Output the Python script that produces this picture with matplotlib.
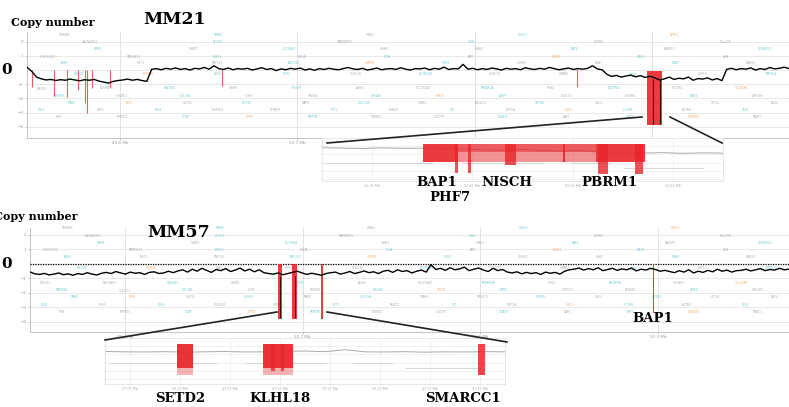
import numpy as np
import matplotlib.pyplot as plt
from matplotlib.lines import Line2D

W, H = 789, 407

############## data ##############
# copy number trace, MM21 (top), read along the panel left -> right
mm21_cn = [
    0.20, -0.10, -0.50, -0.62, -0.70, -0.66, -0.74, -0.68, -0.72, -0.64,
    -0.70, -0.76, -0.68, -0.72, -0.66, -0.78, -0.85, -0.92, -0.80, -0.74,
    -0.70, -0.64, -0.72, -0.66, -0.74, -0.80,
    0.05, 0.10, 0.02, 0.12, 0.06, 0.15, 0.04, 0.10, 0.00, 0.12,
    0.08, 0.18, 0.06, 0.30, 0.10, 0.04, 0.14, 0.02, 0.10, 0.06,
    0.12, 0.00, 0.08, 0.16, 0.04, 0.10, -0.04, 0.08, 0.02, 0.12,
    0.06, 0.14, 0.00, 0.08, -0.02, 0.10, 0.04, 0.12, 0.06, 0.02,
    0.10, 0.18, 0.08, 0.04, 0.12, 0.00, 0.06, 0.14, 0.02, 0.08,
    0.10, 0.04, 0.16, 0.06, 0.00, 0.10, 0.08, 0.14, 0.02, 0.12,
    0.06, 0.20, 0.04, 0.10, 0.08, 0.40, 0.06, 0.12, 0.02, 0.10,
    0.04, 0.14, 0.08, 0.00, 0.12, 0.06, 0.10, 0.02, 0.16, 0.08,
    0.04, 0.12, 0.06, 0.18, 0.10, 0.02, 0.08, 0.14, 0.04, 0.10,
    0.06, 0.12, 0.30, 0.08, 0.02,
    -0.30, -0.45, -0.38, -0.50, -0.42, -0.36, -0.48, -0.40, -0.52, -0.44,
    -0.55, -0.70, -0.62, -0.50, -0.66, -0.58, -0.62, -0.50, -0.72, -0.60,
    -0.64, -0.55, -0.70, -0.60, -0.75,
    0.05, 0.12, 0.02, 0.10, 0.06, 0.15, 0.00, 0.10, 0.04, 0.18, 0.08, 0.12, 0.20, 0.10,
]

# copy number trace, MM57 (bottom)
mm57_cn = [
    -0.55, -0.68, -0.72, -0.65, -0.75, -0.70, -0.62, -0.74, -0.68, -0.78,
    -0.66, -0.72, -0.60, -0.70, -0.76, -0.64,
    -0.58, -0.66, -0.52, -0.62, -0.70, -0.56, -0.64, -0.60, -0.72, -0.58,
    -0.54, -0.66, -0.62, -0.50, -0.60,
    -0.48, -0.40, -0.56, -0.36, -0.50, -0.30, -0.44, -0.58, -0.38, -0.46,
    -0.32, -0.52, -0.42, -0.28, -0.48, -0.36, -0.54, -0.40, -0.60, -0.66,
    -0.70, -0.62, -0.74, -0.66, -0.58, -0.50, -0.62, -0.72, -0.64, -0.70,
    -0.78, -0.66, -0.60,
    -0.56, -0.70, -0.62, -0.52, -0.66, -0.58, -0.48, -0.60, -0.54, -0.66,
    -0.50, -0.44, -0.58, -0.40, -0.52, -0.46, -0.62, -0.50, -0.42, -0.56, -0.05,
    -0.38, -0.30, -0.44, -0.26, -0.40, -0.34, -0.22, -0.46, -0.36, -0.28,
    -0.42, -0.52, -0.30, -0.46, -0.38, -0.56,
    -0.62, -0.54, -0.68, -0.58, -0.66, -0.60, -0.72, -0.56, -0.64, -0.58,
    -0.70, -0.50, -0.40,
    -0.36, -0.28, -0.42, -0.32, -0.40, -0.26, -0.46, -0.38, -0.30, -0.44,
    -0.34, -0.40, -0.28, -0.48, -0.36, -0.42, -0.30, -0.38, -0.50, -0.44,
    -0.52, -0.60, -0.46, -0.56, -0.40, -0.62, -0.50, -0.58, -0.44, -0.54,
    -0.36, -0.50, -0.42, -0.56, -0.46,
    -0.44, -0.36, -0.48, -0.40, -0.32, -0.46, -0.38, -0.42, -0.30, -0.40, -0.36,
]

mm21_range = (49.328, 53.195)   # Mb shown in top panel
mm57_range = (49.318, 53.165)   # Mb shown in bottom panel
mb_ticks = [49.8, 50.7, 51.6, 52.5]
mb_tick_labels = ['49.8 Mb', '50.7 Mb', '51.6 Mb', '52.5 Mb']
cn_ticks = [2, 1, -1, -2, -3, -4]

# deletion calls in main panels: position (Mb), width (Mb), top, bottom
mm21_del_pos = [49.353, 49.465, 49.531, 49.587, 49.622, 49.632, 49.658, 49.749, 50.318, 52.12]
mm21_del_bottom = [-1.2, -1.8, -1.9, -1.4, -2.3, -3.0, -1.3, -1.2, -1.1, -1.2]
mm21_block = (52.475, 52.551, -0.1, -3.9)

mm57_bar_pos = [50.585, 50.658, 50.797, 52.478]
mm57_bar_width = [0.020, 0.026, 0.008, 0.008]
mm57_bar_bottom = [-3.8, -3.8, -3.8, -3.4]

# zoomed insets
top_inset_range = (52.30, 52.70)
top_inset_cn = [-0.20, -0.25, -0.30, -0.22, -0.28, -0.25, -0.40, -0.35, -0.45, -0.50, -0.40,
                -0.55, -0.60, -0.55, -0.80, -0.90, -0.85, -0.80, -0.88, -0.82, -0.86]
# (start, end, bottom, alpha)
top_inset_blocks = [(52.401, 52.436, -1.9, 0.9), (52.436, 52.573, -1.9, 0.5),
                    (52.436, 52.573, -0.7, 0.5), (52.483, 52.494, -2.3, 0.8),
                    (52.573, 52.622, -1.9, 0.9), (52.575, 52.585, -3.4, 0.8),
                    (52.612, 52.620, -3.4, 0.8), (52.433, 52.436, -3.3, 0.8),
                    (52.446, 52.449, -3.3, 0.8), (52.540, 52.542, -1.9, 0.9)]

bot_inset_range = (47.05, 47.45)
bot_inset_cn = [-0.65, -0.70, -0.72, -0.68, -0.74, -0.70, -0.66, -0.72, -0.70, -0.64, -0.60,
                -0.68, -0.45, -0.70, -0.72, -0.68, -0.74, -0.70, -0.72, -0.68, -0.70]
bot_inset_blocks = [(47.122, 47.138, -2.6, 0.9), (47.122, 47.138, -3.5, 0.35),
                    (47.208, 47.238, -2.6, 0.9), (47.208, 47.238, -3.5, 0.35),
                    (47.216, 47.220, -3.0, 0.8), (47.226, 47.229, -3.0, 0.8),
                    (47.423, 47.430, -3.5, 0.85)]

top_labels = ['BAP1', 'PHF7', 'NISCH', 'PBRM1']
top_label_xy = [(437, 182), (450, 197), (507, 182), (609, 182)]
bot_labels = ['SETD2', 'KLHL18', 'SMARCC1', 'BAP1']
bot_label_xy = [(180, 399), (280, 399), (463, 399), (653, 318)]

gene_names = [
    'SEMA3F', 'RBM6', 'HYAL2', 'TUSC2', 'NPRL2',
    'CACNA2D2', 'DOCK3', 'MAPKAPK3', 'CISH', 'HEMK1', 'C3orf18',
    'RBM5', 'GNAT1', 'SLC38A3', 'GNAI2', 'HYAL1', 'NAT6', 'RASSF1', 'ZMYND10',
    'CYB561D2', 'TMEM115', 'LRRC2', 'RHOA', 'TCTA', 'AMT', 'NICN1', 'DAG1', 'BSN',
    'APEH', 'MST1', 'RNF123', 'AMIGO3', 'GMPPB', 'IP6K1', 'CDHR4', 'UBA7', 'TRAIP', 'CAMKV',
    'MST1R', 'MON1A', 'USP4', 'GPX1', 'CCDC36', 'KLHDC8B', 'CCDC71', 'LAMB2', 'QARS', 'USP19', 'IMPDH2',
    'QRICH1', 'NDUFAF3', 'DALRD3', 'WDR6', 'P4HTM', 'ARIH2', 'SLC25A20', 'PRKAR2A', 'IP6K2', 'NCKIPSD',
    'CELSR3', 'SLC26A6', 'TMEM89', 'UQCRC1', 'COL7A1', 'UCN2', 'PFKFB4', 'SHISA5', 'TREX1', 'ATRIP',
    'CCDC51', 'PLXNB1', 'NME6', 'ZNF589', 'TMA7', 'ELP6', 'CSPG5', 'DHX30', 'MAP4', 'CDC25A',
    'STAB1', 'NT5DC2', 'SMIM4', 'GNL3', 'GLT8D1', 'SPCS1', 'NEK4', 'ITIH1', 'ITIH3', 'ITIH4', 'MUSTN1',
    'SFMBT1', 'RFT1', 'PRKCD', 'TKT', 'DCP1A', 'CHDH', 'IL17RB', 'ACTR8', 'SELK', 'KIF9', 'PTPN23', 'SCAP',
    'TWF2', 'PPM1M', 'WDR82', 'GLYCTK', 'DNAH1', 'BAP1', 'PHF7', 'SEMA3G', 'TNNC1', 'NISCH', 'PBRM1',
]
gene_rows = [2.45, 1.95, 1.45, 0.95, 0.5, -0.3, -1.3, -1.8, -2.3, -2.8, -3.3]
genes_per_row = [5, 6, 8, 9, 10, 11, 12, 12, 13, 13, 12]

GRAY_TXT = '#8c8c8c'
CYAN = '#38b6c4'
ORANGE = '#f0913c'
RED = '#e8262a'
SERIF = 'DejaVu Serif'


def rect(l, t, r, b):
    return [l / W, 1 - b / H, (r - l) / W, (b - t) / H]


def style_axes(ax, ylim):
    ax.set_ylim(*ylim)
    for s in ['top', 'right']:
        ax.spines[s].set_visible(False)
    for s in ['left', 'bottom']:
        ax.spines[s].set_color('#bbbbbb')
        ax.spines[s].set_linewidth(0.6)
    ax.tick_params(colors='#999999', labelsize=3.0, length=1.5, width=0.4, pad=1)
    for y in range(-4, 3):
        ax.axhline(y, color='#e4e4e4', lw=0.6, zorder=0)


def draw_genes(ax, x0, x1):
    k = 0
    span = x1 - x0
    for r, (y, n) in enumerate(zip(gene_rows, genes_per_row)):
        off = 0.25 * ((r % 3) - 1)
        for j in range(n):
            if k >= len(gene_names):
                break
            x = x0 + (j + 0.5 + off) * span / n
            if k % 5 in (1, 3):
                c = CYAN
            elif k % 7 == 4:
                c = ORANGE
            else:
                c = GRAY_TXT
            ax.text(x, y, gene_names[k], fontsize=2.2, color=c, ha='center',
                    va='center', alpha=0.7, zorder=1)
            k += 1


fig = plt.figure(figsize=(W / 100, H / 100), dpi=100)

############## top panel MM21 ##############
ax1 = fig.add_axes(rect(27, 32, 789, 138))
style_axes(ax1, (-4.79, 2.68))
ax1.set_xlim(*mm21_range)
ax1.set_xticks(mb_ticks, mb_tick_labels)
ax1.set_yticks(cn_ticks)
for t in mb_ticks:
    ax1.axvline(t, color='#dddddd', lw=0.6, zorder=0)
draw_genes(ax1, *mm21_range)
x21 = np.linspace(mm21_range[0], mm21_range[1], len(mm21_cn))
ax1.vlines(mm21_del_pos, 0, mm21_del_bottom, color=RED, lw=0.8, alpha=0.75, zorder=2)
b0, b1, bt, bb = mm21_block
ax1.bar(b0, bb - bt, width=b1 - b0, bottom=bt, align='edge', color=RED, alpha=0.9, zorder=3)
ax1.vlines([52.505, 52.540], -0.6, -3.8, color='#3a0a0a', lw=0.8, zorder=4)
ax1.plot(x21, mm21_cn, color='black', lw=1.0, zorder=5)

############## bottom panel MM57 ##############
ax2 = fig.add_axes(rect(30, 228, 789, 332))
style_axes(ax2, (-4.69, 2.48))
ax2.set_xlim(*mm57_range)
ax2.set_xticks(mb_ticks, mb_tick_labels)
ax2.set_yticks(cn_ticks)
for t in mb_ticks:
    ax2.axvline(t, color='#dddddd', lw=0.6, zorder=0)
draw_genes(ax2, *mm57_range)
ax2.axhline(0, color='black', lw=0.9, ls=(0, (1, 1)), zorder=3)
x57 = np.linspace(mm57_range[0], mm57_range[1], len(mm57_cn))
ax2.bar(mm57_bar_pos, np.array(mm57_bar_bottom), width=mm57_bar_width, bottom=0,
        color=RED, alpha=0.9, zorder=3)
ax2.vlines([mm57_bar_pos[0], mm57_bar_pos[1] + 0.004], -0.8, -3.7, color='#3a0a0a', lw=0.7, zorder=4)
ax2.plot(x57, mm57_cn, color='black', lw=1.0, zorder=5)

# big zero and titles
for y0 in (70, 264):
    fig.text(7 / W, 1 - y0 / H, '0', fontsize=11, fontweight='bold', family=SERIF,
             ha='center', va='center')
fig.text(11 / W, 1 - 22 / H, 'Copy number', fontsize=8, fontweight='bold', family=SERIF,
         ha='left', va='center')
fig.text(-6 / W, 1 - 217 / H, 'Copy number', fontsize=8, fontweight='bold', family=SERIF,
         ha='left', va='center')
fig.text(143 / W, 1 - 20 / H, 'MM21', fontsize=12.5, fontweight='bold', family=SERIF,
         ha='left', va='center')
fig.text(147 / W, 1 - 232 / H, 'MM57', fontsize=12.5, fontweight='bold', family=SERIF,
         ha='left', va='center')


############## insets ##############
def draw_inset(r, xr, cn, blocks, ylim, tick_step):
    ax = fig.add_axes(r)
    ax.set_xlim(*xr)
    ax.set_ylim(*ylim)
    ax.set_facecolor('white')
    for s in ax.spines.values():
        s.set_color('#dddddd')
        s.set_linewidth(0.5)
    ticks = np.arange(xr[0] + tick_step / 2, xr[1], tick_step)
    ax.set_xticks(ticks, ['%.2f Mb' % t for t in ticks])
    ax.set_yticks([0, -1, -2, -3, -4])
    ax.tick_params(colors='#aaaaaa', labelsize=2.4, length=1, width=0.3, pad=1)
    ax.set_yticklabels([])
    for y in range(-4, 1):
        ax.axhline(y, color='#ececec', lw=0.5, zorder=0)
    for t in ticks:
        ax.axvline(t, color='#ececec', lw=0.5, zorder=0)
    xs = np.linspace(xr[0], xr[1], len(cn))
    ax.plot(xs, cn, color='#a8a8a8', lw=0.7, zorder=1)
    span = xr[1] - xr[0]
    ax.hlines([-2.0, -2.0, -2.0, -2.6], [xr[0] + 0.01 * span, xr[0] + 0.35 * span,
              xr[0] + 0.62 * span, xr[0] + 0.75 * span],
              [xr[0] + 0.28 * span, xr[0] + 0.55 * span, xr[0] + 0.72 * span,
               xr[0] + 0.95 * span], color='#c8c8c8', lw=0.5, zorder=1)
    for s0, s1, bot, a in blocks:
        ax.bar(s0, bot - 0.2, width=s1 - s0, bottom=0.2, align='edge',
               color=RED, alpha=a, lw=0, zorder=2)
    return ax


draw_inset(rect(322, 138, 723, 181), top_inset_range, top_inset_cn, top_inset_blocks,
           (-4.2, 0.96), 0.1)
draw_inset(rect(105, 338, 505, 384), bot_inset_range, bot_inset_cn, bot_inset_blocks,
           (-4.56, 0.96), 0.05)

# connector lines
connectors = [((327, 143), (642, 117)), ((670, 117), (722, 143)),
              ((105, 340), (277, 312)), ((327, 312), (507, 342))]
for (xa, ya), (xb, yb) in connectors:
    fig.add_artist(Line2D([xa / W, xb / W], [1 - ya / H, 1 - yb / H],
                          transform=fig.transFigure, color='#222222', lw=1.2))

for lab, (x, y) in zip(top_labels + bot_labels, top_label_xy + bot_label_xy):
    fig.text(x / W, 1 - y / H, lab, fontsize=9.5, fontweight='bold', family=SERIF,
             ha='center', va='center')

fig.savefig('out.png', dpi=100)
